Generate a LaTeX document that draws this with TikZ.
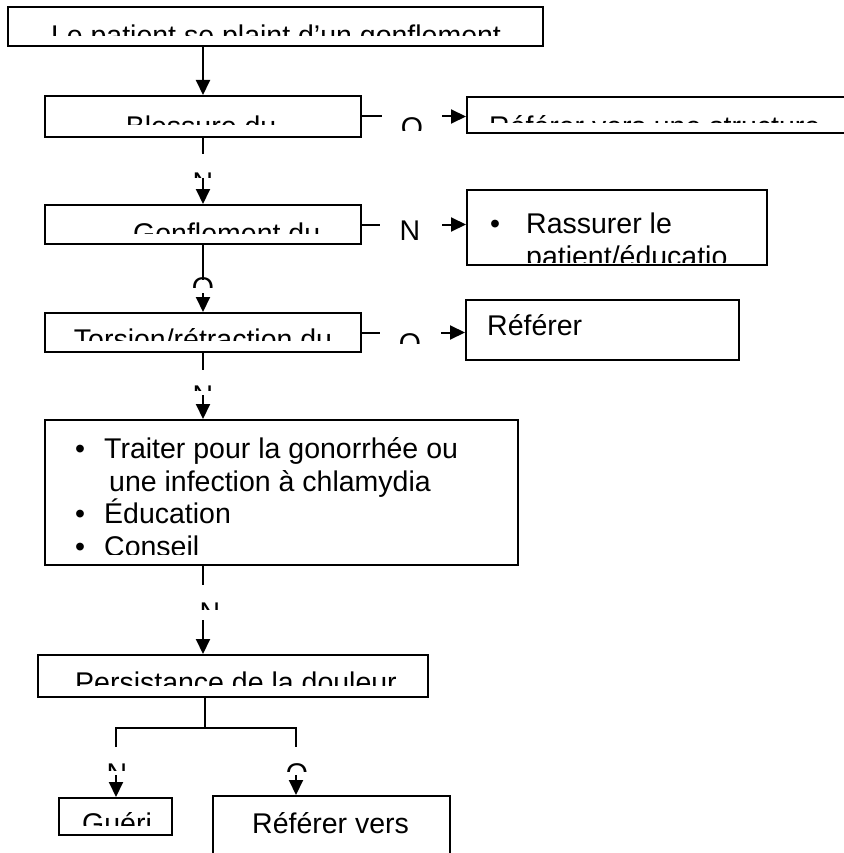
\documentclass[tikz,border=0pt]{standalone}
\usepackage{fontspec}
\setmainfont{Liberation Sans}
\usetikzlibrary{arrows.meta}

% text clipped to a rectangle: name, anchor, corner, corner, position, text
\newcommand\cliptext[6]{%
  \begin{scope}
    \clip #3 rectangle #4;
    \node[txt, anchor=#2] (#1) at #5 {#6};
  \end{scope}}

\begin{document}
\begin{tikzpicture}[x=1pt, y=-1pt,
  box/.style={draw, line width=2pt, inner sep=0pt},
  txt/.style={inner sep=0pt, font=\fontsize{28.5}{33}\selectfont},
  link/.style={line width=2pt},
  arr/.style={line width=2pt, -{Triangle[length=15pt,width=14pt]}},
]
\useasboundingbox[fill=white] (0,0) rectangle (843,853);

% ---- boxes
\node[box, minimum width=535, minimum height=39]  (top) at (275.5,26.5) {};
\node[box, minimum width=316, minimum height=41]  (bl)  at (203,116.5) {};
\node[box, minimum width=433, minimum height=36]  (st)  at (683.5,115) {};
\node[box, minimum width=316, minimum height=39]  (gf)  at (203,224.5) {};
\node[box, minimum width=300, minimum height=75]  (ra)  at (617,227.5) {};
\node[box, minimum width=316, minimum height=39]  (to)  at (203,332.5) {};
\node[box, minimum width=273, minimum height=60]  (rf)  at (602.5,330) {};
\node[box, minimum width=473, minimum height=145] (bg)  at (281.5,492.5) {};
\node[box, minimum width=390, minimum height=42]  (ps)  at (233,676) {};
\node[box, minimum width=113, minimum height=37]  (gu)  at (115.5,816.5) {};
\node[box, minimum width=237, minimum height=104] (rv)  at (331.5,848) {};

% ---- box texts
\cliptext{t-top}{base}{(10,9)}{(541,36)}{(276,46)}{Le patient se plaint d’un gonflement}
\cliptext{t-bl}{base}{(47,98)}{(359,125)}{(201,136.5)}{Blessure du}
\cliptext{t-st}{base west}{(469,99)}{(843,123)}{(489,136.5)}{Référer vers une structure}
\cliptext{t-gf}{base west}{(47,207)}{(359,233)}{(133,243.5)}{Gonflement du}
\node[txt, anchor=base] (b-ra) at (495,233) {•};
\node[txt, anchor=base west] (t-ra1) at (526,233) {Rassurer le};
\cliptext{t-ra2}{base west}{(469,240)}{(765,262)}{(526,266)}{patient/éducatio}
\cliptext{t-to}{base}{(47,315)}{(359,340)}{(203,349.5)}{Torsion/rétraction du}
\node[txt, anchor=base west] (t-rf) at (487,335) {Référer};
\node[txt, anchor=base] (b-bg1) at (80,458) {•};
\node[txt, anchor=base west] (t-bg1) at (104,458) {Traiter pour la gonorrhée ou};
\node[txt, anchor=base west] (t-bg2) at (109,491) {une infection à chlamydia};
\node[txt, anchor=base] (b-bg3) at (80,523) {•};
\node[txt, anchor=base west] (t-bg3) at (104,523) {Éducation};
\cliptext{b-bg4}{base}{(47,530)}{(516,554)}{(80,556)}{•}
\cliptext{t-bg4}{base west}{(47,530)}{(516,554)}{(104,556)}{Conseil}
\cliptext{t-ps}{base}{(40,657)}{(426,685)}{(236,692.5)}{Persistance de la douleur}
\cliptext{t-gu}{base west}{(61,800)}{(170,825)}{(82,833)}{Guéri}
\node[txt, anchor=base west] (t-rv) at (252,833) {Référer vers};

% ---- branch labels
\cliptext{l-o1}{base}{(395,110)}{(430,131)}{(412,137.5)}{O}
\node[txt, anchor=base] (l-n1) at (410,240) {N};
\cliptext{l-n2}{base}{(185,165)}{(221,178)}{(203,192.5)}{N}
\cliptext{l-o2}{base}{(185,270)}{(221,287)}{(203,297.5)}{O}
\cliptext{l-o3}{base}{(395,326)}{(430,343)}{(410,353.5)}{O}
\cliptext{l-n3}{base}{(185,378)}{(221,390)}{(203,405.5)}{N}
\cliptext{l-n4}{base}{(190,595)}{(230,609)}{(210,622.5)}{N}
\cliptext{l-n5}{base}{(100,756)}{(135,770)}{(117,783.5)}{N}
\cliptext{l-o4}{base}{(280,756)}{(315,771)}{(297,783.5)}{O}

% ---- connector break points
\coordinate (bl-o1) at (382,116.5);
\coordinate (bl-o2) at (442,116.5);
\coordinate (bl-n1) at (203,154);
\coordinate (bl-n2) at (203,178);
\coordinate (gf-n1) at (380,224.5);
\coordinate (gf-n2) at (442,224.5);
\coordinate (gf-o1) at (203,280);
\coordinate (gf-o2) at (203,293);
\coordinate (to-o1) at (380,332.5);
\coordinate (to-o2) at (441,332.5);
\coordinate (to-n1) at (203,370);
\coordinate (to-n2) at (203,395);
\coordinate (bg-n1) at (203,585);
\coordinate (bg-n2) at (203,620);
\coordinate (ps-j)  at (205,728);
\coordinate (ps-l)  at (116,747);
\coordinate (ps-r)  at (296,747);
\coordinate (gu-n)  at (116,775);
\coordinate (rv-o)  at (296,775);

% ---- connectors
\draw[arr]  (top.south -| bl.north) -- (bl.north);
\draw[link] (bl.east) -- (bl-o1);
\draw[arr]  (bl-o2) -- (bl-o2 -| st.west);
\draw[link] (bl.south) -- (bl-n1);
\draw[arr]  (bl-n2) -- (gf.north);
\draw[link] (gf.east) -- (gf-n1);
\draw[arr]  (gf-n2) -- (gf-n2 -| ra.west);
\draw[link] (gf.south) -- (gf-o1);
\draw[arr]  (gf-o2) -- (to.north);
\draw[link] (to.east) -- (to-o1);
\draw[arr]  (to-o2) -- (to-o2 -| rf.west);
\draw[link] (to.south) -- (to-n1);
\draw[arr]  (to-n2) -- (to-n2 |- bg.north);
\draw[link] (bg-n1 |- bg.south) -- (bg-n1);
\draw[arr]  (bg-n2) -- (bg-n2 |- ps.north);
\draw[link] (ps-j |- ps.south) -- (ps-j);
\draw[link] (ps-l) -- (ps-l |- ps-j) -- (ps-r |- ps-j) -- (ps-r);
\draw[arr]  (gu-n) -- (gu-n |- gu.north);
\draw[arr]  (rv-o) -- (rv-o |- rv.north);
\end{tikzpicture}
\end{document}
